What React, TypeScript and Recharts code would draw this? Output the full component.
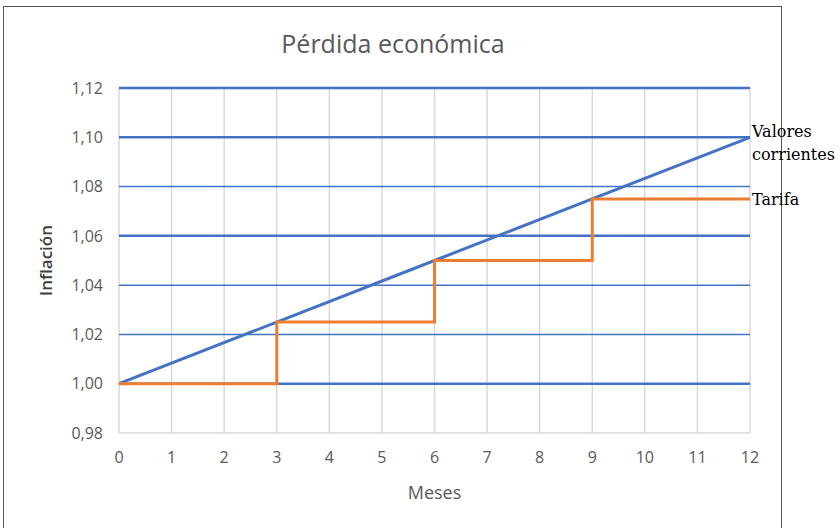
import { LineChart, Line, XAxis, YAxis, CartesianGrid } from "recharts"

const meses = [0, 3, 6, 9, 12]
const valoresCorrientes = [1.0, 1.025, 1.05, 1.075, 1.1]
const tarifa = [1.0, 1.025, 1.05, 1.075, 1.075]
const mesTicks = [0, 1, 2, 3, 4, 5, 6, 7, 8, 9, 10, 11, 12]
const inflacionTicks = [0.98, 1.0, 1.02, 1.04, 1.06, 1.08, 1.1, 1.12]

const BLUE = "#4472C4"
const ORANGE = "#ED7D31"
const TEXT = "#595959"
const SANS = "'Open Sans', sans-serif"
const SERIF = "'DejaVu Serif', serif"

const data = meses.map((m, i) => ({ mes: m, valores: valoresCorrientes[i], tarifa: tarifa[i] }))

const comma = (v: number) => v.toFixed(2).replace(".", ",")

// text next to the last point of a series
function endLabel(lines: string[], dy: number) {
  return (props: any) => {
    if (props.index !== data.length - 1) return null
    return (
      <text key="end" x={props.x + 2} y={props.y + dy} fontFamily={SERIF} fontSize={16} fill="#000">
        {lines.map((t, i) => (
          <tspan key={t} x={props.x + 2} dy={i === 0 ? 0 : 23}>{t}</tspan>
        ))}
      </text>
    )
  }
}

export default function App() {
  return (
    <div style={{ position: "absolute", left: 0, top: 0, width: 839, height: 528, background: "#fff", overflow: "hidden" }}>
      <div style={{ position: "absolute", left: 3, top: 6, width: 779, height: 540, border: "1px solid #555", boxSizing: "border-box" }} />
      <div style={{ position: "absolute", left: 3, width: 780, top: 26, textAlign: "center", fontFamily: SANS, fontSize: 25, color: TEXT }}>
        Pérdida económica
      </div>
      <div style={{ position: "absolute", left: 0 }}>
        <LineChart width={839} height={528} data={data} margin={{ top: 88, right: 89, left: 0, bottom: 0 }}>
          <CartesianGrid horizontal={false} stroke="#d9d9d9" strokeWidth={1.5} />
          <CartesianGrid vertical={false} horizontalValues={[1.12, 1.1, 1.06, 1.0]} stroke={BLUE} strokeWidth={2.5} />
          <CartesianGrid vertical={false} horizontalValues={[1.08, 1.04, 1.02]} stroke={BLUE} strokeWidth={1.5} />
          <XAxis
            dataKey="mes"
            type="number"
            domain={[0, 12]}
            ticks={mesTicks}
            height={95}
            tickLine={false}
            tickSize={0}
            tickMargin={19}
            axisLine={{ stroke: "#d9d9d9", strokeWidth: 1.5 }}
            tick={{ fontFamily: SANS, fontSize: 16, fill: TEXT }}
            label={{ value: "Meses", position: "insideBottom", offset: 29, fontFamily: SANS, fontSize: 18, fill: TEXT }}
          />
          <YAxis
            type="number"
            domain={[0.98, 1.12]}
            ticks={inflacionTicks}
            width={119}
            tickFormatter={comma}
            tickLine={false}
            axisLine={false}
            tickSize={0}
            tickMargin={16}
            tick={{ fontFamily: SANS, fontSize: 16, fill: TEXT }}
            label={{
              value: "Inflación",
              angle: -90,
              position: "insideLeft",
              offset: 46,
              textAnchor: "middle",
              fontFamily: SANS,
              fontSize: 17,
              fontWeight: 600,
              fill: "#404040",
            }}
          />
          <Line
            type="linear"
            dataKey="valores"
            stroke={BLUE}
            strokeWidth={3}
            dot={false}
            isAnimationActive={false}
            label={endLabel(["Valores", "corrientes"], 0)}
          />
          <Line
            type="stepAfter"
            dataKey="tarifa"
            stroke={ORANGE}
            strokeWidth={3}
            dot={false}
            isAnimationActive={false}
            label={endLabel(["Tarifa"], 6)}
          />
        </LineChart>
      </div>
    </div>
  )
}
